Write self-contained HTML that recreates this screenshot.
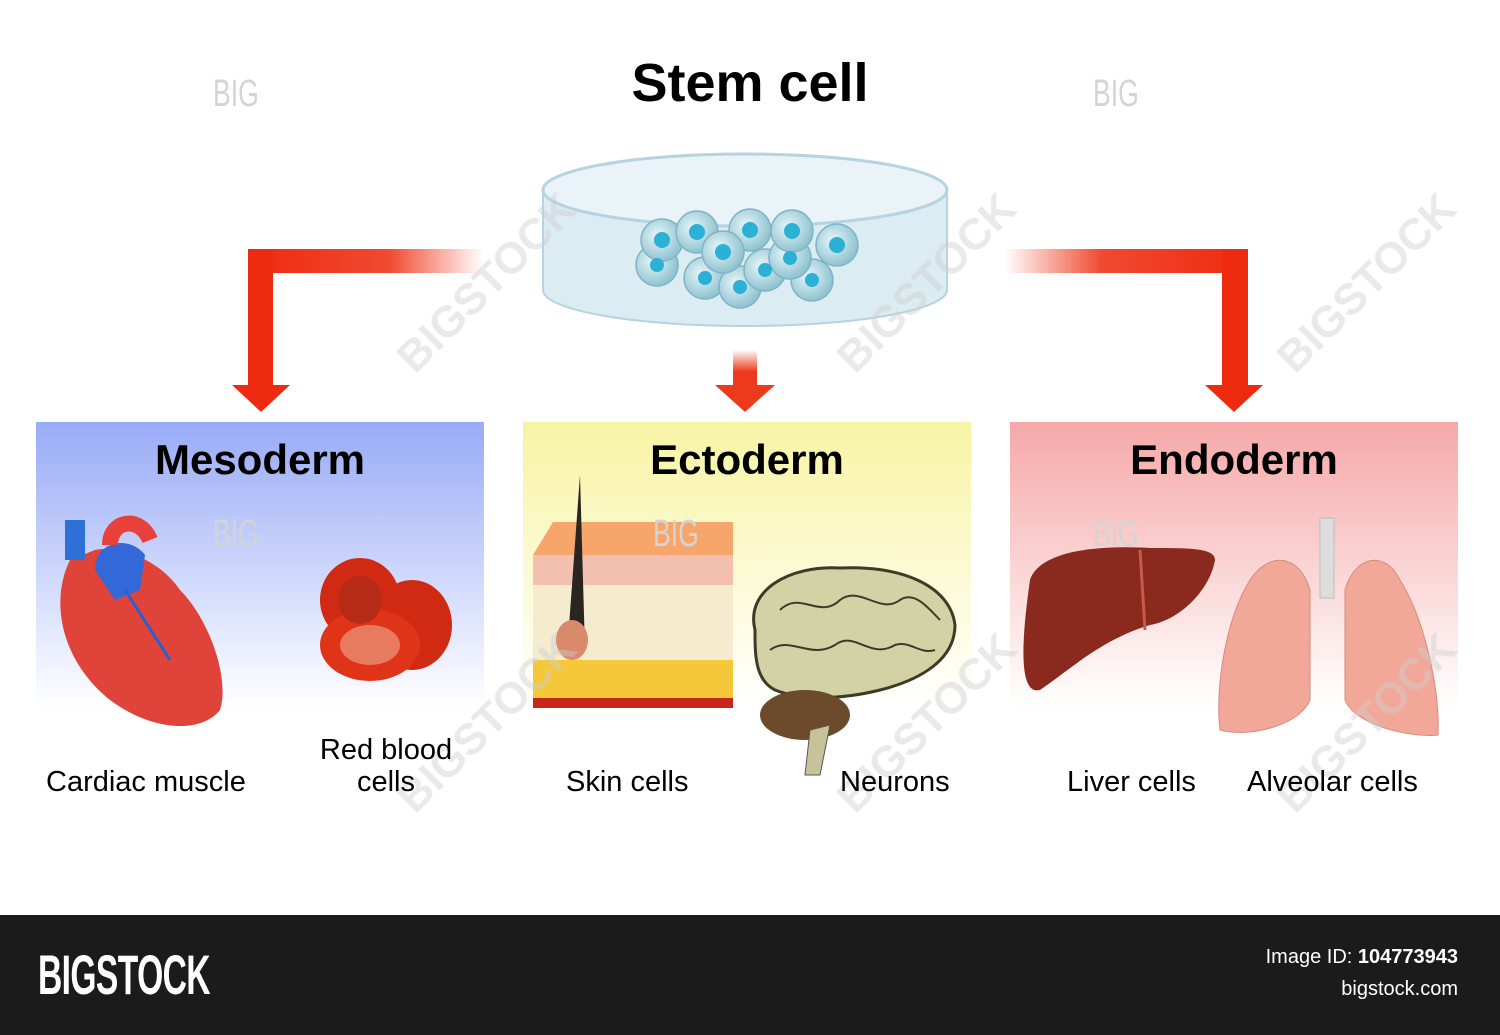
<!DOCTYPE html>
<html><head><meta charset="utf-8"><style>
html,body{margin:0;padding:0;background:#fff;}
body{width:1500px;height:1035px;position:relative;overflow:hidden;font-family:"Liberation Sans",sans-serif;}
.t{position:absolute;white-space:nowrap;}
.l{font-size:29px;top:766px;}
</style></head><body>
<svg width="1500" height="1035" style="position:absolute;left:0;top:0">
<defs>
<linearGradient id="gb" x1="0" y1="0" x2="0" y2="1"><stop offset="0" stop-color="#98abf7"/><stop offset="0.75" stop-color="#fff"/></linearGradient>
<linearGradient id="gy" x1="0" y1="0" x2="0" y2="1"><stop offset="0" stop-color="#f8f4a4"/><stop offset="0.75" stop-color="#fff"/></linearGradient>
<linearGradient id="gp" x1="0" y1="0" x2="0" y2="1"><stop offset="0" stop-color="#f6a8a8"/><stop offset="0.75" stop-color="#fff"/></linearGradient>
<linearGradient id="al" x1="0" y1="0" x2="1" y2="0"><stop offset="0" stop-color="#ee2a10"/><stop offset="0.6" stop-color="#f04a30"/><stop offset="1" stop-color="#fff"/></linearGradient>
<linearGradient id="ar" x1="1" y1="0" x2="0" y2="0"><stop offset="0" stop-color="#ee2a10"/><stop offset="0.6" stop-color="#f04a30"/><stop offset="1" stop-color="#fff"/></linearGradient>
<linearGradient id="ac" x1="0" y1="0" x2="0" y2="1"><stop offset="0" stop-color="#fff"/><stop offset="0.6" stop-color="#ee3a1c"/></linearGradient>
<radialGradient id="cell" cx="0.4" cy="0.4" r="0.6"><stop offset="0" stop-color="#e8f6fa"/><stop offset="1" stop-color="#8fc3d0"/></radialGradient>
</defs>
<rect x="36" y="422" width="448" height="380" fill="url(#gb)"/>
<rect x="523" y="422" width="448" height="380" fill="url(#gy)"/>
<rect x="1010" y="422" width="448" height="380" fill="url(#gp)"/>
<rect x="248" y="249" width="235" height="24" fill="url(#al)"/>
<rect x="248" y="249" width="25" height="138" fill="#ee2a10"/>
<polygon points="232,385 290,385 261,412" fill="#ee2a10"/>
<rect x="1005" y="249" width="243" height="24" fill="url(#ar)"/>
<rect x="1222" y="249" width="26" height="138" fill="#ee2a10"/>
<polygon points="1205,385 1263,385 1234,412" fill="#ee2a10"/>
<rect x="733" y="350" width="24" height="36" fill="url(#ac)"/>
<polygon points="715,385 775,385 745,412" fill="#ee3a1c"/>
<path d="M543,190 L543,290 A202,36 0 0 0 947,290 L947,190 Z" fill="#dcecf3" stroke="#b5d3e0" stroke-width="2"/>
<ellipse cx="745" cy="190" rx="202" ry="36" fill="#eaf3f7" stroke="#b5d3e0" stroke-width="3"/>
<g stroke="#7fb4c4" stroke-width="1.5" fill="url(#cell)">
<circle cx="657" cy="265" r="21"/><circle cx="705" cy="278" r="21"/><circle cx="740" cy="287" r="21"/><circle cx="765" cy="270" r="21"/><circle cx="812" cy="280" r="21"/><circle cx="790" cy="258" r="21"/>
<circle cx="662" cy="240" r="21"/><circle cx="697" cy="232" r="21"/><circle cx="750" cy="230" r="21"/><circle cx="792" cy="231" r="21"/><circle cx="837" cy="245" r="21"/><circle cx="723" cy="252" r="21"/>
</g>
<g fill="#2bb1d6">
<circle cx="657" cy="265" r="7"/><circle cx="705" cy="278" r="7"/><circle cx="740" cy="287" r="7"/><circle cx="765" cy="270" r="7"/><circle cx="812" cy="280" r="7"/><circle cx="790" cy="258" r="7"/>
<circle cx="662" cy="240" r="8"/><circle cx="697" cy="232" r="8"/><circle cx="750" cy="230" r="8"/><circle cx="792" cy="231" r="8"/><circle cx="837" cy="245" r="8"/><circle cx="723" cy="252" r="8"/>
</g>
<path d="M70,560 C50,600 60,660 110,700 C150,730 200,735 220,710 C230,680 210,620 180,590 C160,560 120,545 95,550 Z" fill="#e0433a"/>
<rect x="65" y="520" width="20" height="40" fill="#2f6fd8"/>
<path d="M95,570 C95,540 130,535 145,555 L140,590 L115,600 Z" fill="#3268d8"/>
<path d="M110,545 C110,520 140,515 150,540" stroke="#e8403a" stroke-width="16" fill="none"/>
<path d="M125,590 L170,660" stroke="#2a5fd0" stroke-width="3"/>
<ellipse cx="360" cy="600" rx="40" ry="42" fill="#d02a12"/>
<ellipse cx="412" cy="625" rx="40" ry="45" fill="#d02a12"/>
<ellipse cx="370" cy="645" rx="50" ry="36" fill="#e03418"/>
<ellipse cx="370" cy="645" rx="30" ry="20" fill="#e87a60"/>
<ellipse cx="360" cy="600" rx="22" ry="24" fill="#b82a18"/>
<polygon points="533,555 553,522 733,522 733,555" fill="#f6a56b"/>
<rect x="533" y="555" width="200" height="150" fill="#f5ecd0"/>
<rect x="533" y="555" width="200" height="30" fill="#f3c0b0"/>
<rect x="533" y="660" width="200" height="40" fill="#f5c83a"/>
<rect x="533" y="698" width="200" height="10" fill="#c8261a"/>
<path d="M580,475 L568,640 L585,650 Z" fill="#2a2520"/>
<ellipse cx="572" cy="640" rx="16" ry="20" fill="#d98a6b"/>
<path d="M755,630 C745,590 790,565 840,568 C900,565 950,585 955,625 C955,660 920,680 880,690 C840,700 800,700 775,690 C755,680 755,655 755,630 Z" fill="#d3d2a5" stroke="#3e3a28" stroke-width="3"/>
<ellipse cx="805" cy="715" rx="45" ry="25" fill="#6c4a2c"/>
<path d="M810,730 L805,775 L820,775 L830,725 Z" fill="#c8c29a" stroke="#555" stroke-width="1"/>
<g stroke="#3e3a28" stroke-width="2" fill="none"><path d="M780,610 C800,590 820,620 840,600 C860,585 880,615 900,600 C915,590 930,610 940,620"/><path d="M770,650 C790,635 810,660 835,645 C855,630 870,660 895,645 C910,640 920,655 935,650"/></g>
<path d="M1030,580 C1040,550 1100,545 1150,548 C1190,548 1215,548 1215,560 C1210,590 1180,620 1150,625 C1100,640 1070,670 1040,690 C1020,695 1020,650 1030,580 Z" fill="#8a2a1e"/>
<path d="M1140,550 L1145,630" stroke="#c85a4a" stroke-width="3"/>
<rect x="1320" y="518" width="14" height="80" fill="#ddd" stroke="#bbb"/>
<path d="M1310,590 C1300,555 1270,550 1250,580 C1225,620 1215,690 1220,730 C1250,738 1300,725 1310,700 Z" fill="#f2a898" stroke="#d88a7a"/>
<path d="M1345,590 C1355,555 1385,550 1400,580 C1425,620 1440,690 1438,735 C1410,738 1355,725 1345,700 Z" fill="#f2a898" stroke="#d88a7a"/>
<g fill="#d4d4d4" font-family="Liberation Sans,sans-serif" font-size="38">
<text x="213" y="106" transform="translate(213,0) scale(0.7,1) translate(-213,0)">BIG</text>
<text x="1093" y="106" transform="translate(1093,0) scale(0.7,1) translate(-1093,0)">BIG</text>
<text x="213" y="546" transform="translate(213,0) scale(0.7,1) translate(-213,0)">BIG</text>
<text x="653" y="546" transform="translate(653,0) scale(0.7,1) translate(-653,0)">BIG</text>
<text x="1093" y="546" transform="translate(1093,0) scale(0.7,1) translate(-1093,0)">BIG</text>
</g>
<g fill="#cfcfcf" opacity="0.45" font-family="Liberation Sans,sans-serif" font-size="44" font-weight="bold">
<text transform="translate(415,375) rotate(-45)">BIGSTOCK</text>
<text transform="translate(855,375) rotate(-45)">BIGSTOCK</text>
<text transform="translate(1295,375) rotate(-45)">BIGSTOCK</text>
<text transform="translate(415,815) rotate(-45)">BIGSTOCK</text>
<text transform="translate(855,815) rotate(-45)">BIGSTOCK</text>
<text transform="translate(1295,815) rotate(-45)">BIGSTOCK</text>
</g>
<rect x="0" y="915" width="1500" height="120" fill="#1b1b1b"/>
</svg>
<div class="t" style="left:0;width:1500px;text-align:center;top:52px;font-size:54px;font-weight:bold;">Stem cell</div>
<div class="t" style="left:36px;width:448px;text-align:center;top:436px;font-size:42px;font-weight:bold;">Mesoderm</div>
<div class="t" style="left:523px;width:448px;text-align:center;top:436px;font-size:42px;font-weight:bold;">Ectoderm</div>
<div class="t" style="left:1010px;width:448px;text-align:center;top:436px;font-size:42px;font-weight:bold;">Endoderm</div>
<div class="t l" style="left:46px;">Cardiac muscle</div>
<div class="t" style="left:300px;width:172px;text-align:center;top:734px;font-size:29px;line-height:32px;">Red blood<br>cells</div>
<div class="t l" style="left:566px;">Skin cells</div>
<div class="t l" style="left:840px;">Neurons</div>
<div class="t l" style="left:1067px;">Liver cells</div>
<div class="t l" style="left:1247px;">Alveolar cells</div>
<div class="t" style="left:38px;top:942px;font-size:56px;font-weight:bold;color:#fff;transform:scaleX(0.6);transform-origin:left;letter-spacing:-1px;">BIGSTOCK</div>
<div class="t" style="right:42px;top:946px;font-size:20px;color:#fff;">Image ID: <b>104773943</b></div>
<div class="t" style="right:42px;top:978px;font-size:20px;color:#fff;">bigstock.com</div>
</body></html>
